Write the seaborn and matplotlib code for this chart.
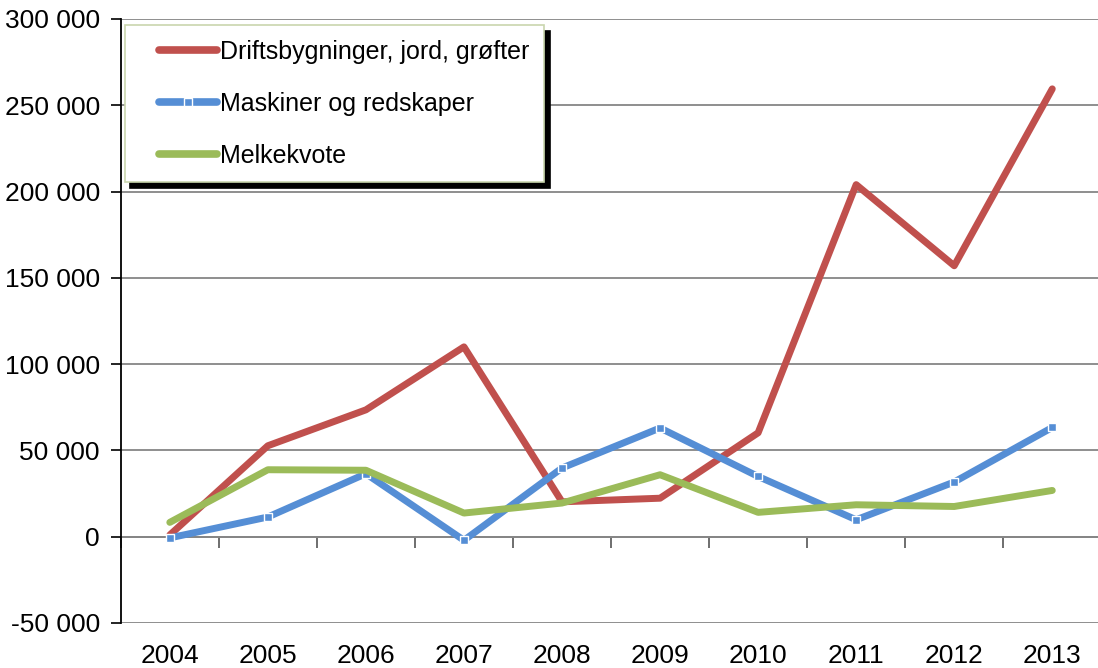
import numpy as np
import pandas as pd
import matplotlib
matplotlib.use("Agg")
import matplotlib.pyplot as plt
import seaborn as sns
from matplotlib.ticker import FuncFormatter
from matplotlib.legend_handler import HandlerLine2D

years = ["2004", "2005", "2006", "2007", "2008", "2009", "2010", "2011", "2012", "2013"]
drift = [1000, 52700, 73500, 110000, 20200, 22300, 60200, 204000, 157000, 259500]
maskiner = [-700, 11400, 36500, -2100, 39800, 63000, 34900, 9800, 31700, 63300]
melk = [8300, 38800, 38500, 13700, 19500, 35900, 14100, 18500, 17500, 26800]

series_names = ["Driftsbygninger, jord, grøfter", "Maskiner og redskaper", "Melkekvote"]
colors = ["#C0504D", "#558ED5", "#9BBB59"]

df = pd.DataFrame({
    "year": years * 3,
    "x": list(range(len(years))) * 3,
    "value": drift + maskiner + melk,
    "serie": [s for s in series_names for _ in years],
})


class IndentedLine(HandlerLine2D):
    # legend sample drawn only in the right part of the handle box (extra left indent)
    def get_xdata(self, legend, xdescent, ydescent, width, height, fontsize):
        x0 = -xdescent + width * 0.26
        x1 = -xdescent + width
        return np.array([x0, x1]), np.array([(x0 + x1) / 2])


sns.set_style("white")
plt.rcParams["font.family"] = ["Liberation Sans", "DejaVu Sans"]
plt.rcParams["text.color"] = "black"
plt.rcParams["xtick.color"] = "black"
plt.rcParams["ytick.color"] = "black"

fig = plt.figure(figsize=(10.98, 6.68), dpi=100)
ax = fig.add_axes([0.110, 0.0674, 0.893, 0.9042])

for name, col in zip(series_names, colors):
    sub = df[df["serie"] == name]
    kw = {}
    if name == "Maskiner og redskaper":
        kw = dict(marker="s", markersize=6, markerfacecolor=col,
                  markeredgecolor="white", markeredgewidth=1.0)
    sns.lineplot(data=sub, x="x", y="value", ax=ax, color=col, linewidth=5,
                 sort=False, label=name, solid_capstyle="round", **kw)

ax.set_ylim(-50000, 300000)
ax.set_xlim(-0.5, 9.5)
ax.set_yticks(np.arange(-50000, 300001, 50000))
ax.yaxis.set_major_formatter(FuncFormatter(lambda v, p: f"{int(v):,}".replace(",", " ")))
ax.grid(axis="y", color="#868686", linewidth=1.3)
ax.set_axisbelow(True)

ax.set_xticks(range(len(years)))
ax.set_xticklabels(years)
ax.tick_params(axis="x", length=0, labelsize=19, pad=15)
ax.tick_params(axis="y", direction="out", length=7, width=1.2, color="black",
               labelsize=19, pad=8, left=True)
ax.set_xlabel("")
ax.set_ylabel("")

for side in ["top", "right", "bottom"]:
    ax.spines[side].set_visible(False)
ax.spines["left"].set_color("black")
ax.spines["left"].set_linewidth(1.3)

# category axis crossing at zero, with tick marks between categories
zero_pos = (0 - (-50000)) / 350000
sec = ax.secondary_xaxis(zero_pos)
sec.set_xticks(np.arange(-0.5, 10, 1.0))
sec.set_xticklabels([])
sec.tick_params(direction="out", length=8, width=1.2, color="#555555")
sec.spines["bottom"].set_color("#808080")
sec.spines["bottom"].set_linewidth(1.3)

handles, labels = ax.get_legend_handles_labels()
leg = ax.legend(handles, labels, loc="upper left", bbox_to_anchor=(0.004, 0.99),
                borderaxespad=0, fontsize=18, handlelength=3.1, handletextpad=0.15,
                labelspacing=1.12, borderpad=0.58, fancybox=False,
                handler_map={h: IndentedLine() for h in handles},
                shadow={"ox": 4, "oy": -4, "color": "black", "alpha": 1},
                framealpha=1, edgecolor="#c9d6ae")
leg.get_frame().set_linewidth(1.2)
for line in leg.get_lines():
    line.set_linewidth(5.5)

fig.savefig("out.png", dpi=100)
